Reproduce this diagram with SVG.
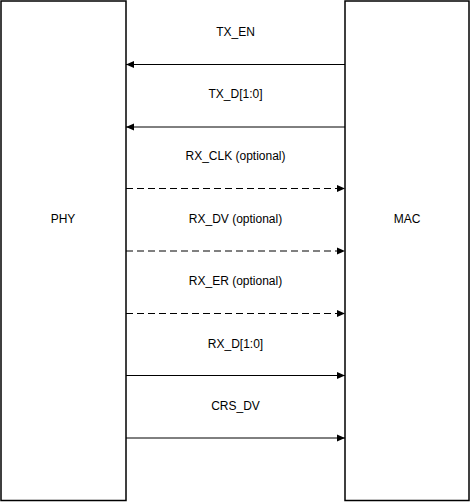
<svg xmlns="http://www.w3.org/2000/svg" width="471" height="502" viewBox="0 0 471 502">
<style>
.box{fill:#fff;stroke:#000;stroke-width:1.5}
.ln{stroke:#000;stroke-width:1;fill:none}
.dash{stroke-dasharray:7 4}
text{font-family:"Liberation Sans",Arial,sans-serif;font-size:12px;fill:#000;text-anchor:middle}
</style>
<defs>
<marker id="ah" viewBox="0 0 8 8" refX="8" refY="4" markerWidth="8" markerHeight="8" markerUnits="userSpaceOnUse" orient="auto">
<path d="M0,0.5 L8,4 L0,7.5 Z" fill="#000"/>
</marker>
</defs>
<rect width="471" height="502" fill="#fff"/>
<g id="phy">
<rect class="box" x="1" y="1" width="125" height="499.5"/>
<text x="63" y="223">PHY</text>
</g>
<g id="mac">
<rect class="box" x="345" y="1" width="124" height="499.5"/>
<text x="407" y="223">MAC</text>
</g>
<g id="connectors">
<line class="ln" x1="345" y1="64.5" x2="126" y2="64.5" marker-end="url(#ah)"/>
<line class="ln" x1="345" y1="127" x2="126" y2="127" marker-end="url(#ah)"/>
<line class="ln dash" x1="126" y1="188.5" x2="345" y2="188.5" marker-end="url(#ah)"/>
<line class="ln dash" x1="126" y1="251" x2="345" y2="251" marker-end="url(#ah)"/>
<line class="ln dash" x1="126" y1="313.5" x2="345" y2="313.5" marker-end="url(#ah)"/>
<line class="ln" x1="126" y1="375.5" x2="345" y2="375.5" marker-end="url(#ah)"/>
<line class="ln" x1="126" y1="438" x2="345" y2="438" marker-end="url(#ah)"/>
<text x="235.5" y="36">TX_EN</text>
<text x="235.5" y="98">TX_D[1:0]</text>
<text x="235.5" y="160">RX_CLK (optional)</text>
<text x="235.5" y="223">RX_DV (optional)</text>
<text x="235.5" y="285">RX_ER (optional)</text>
<text x="235.5" y="348">RX_D[1:0]</text>
<text x="235.5" y="410">CRS_DV</text>
</g>
</svg>
